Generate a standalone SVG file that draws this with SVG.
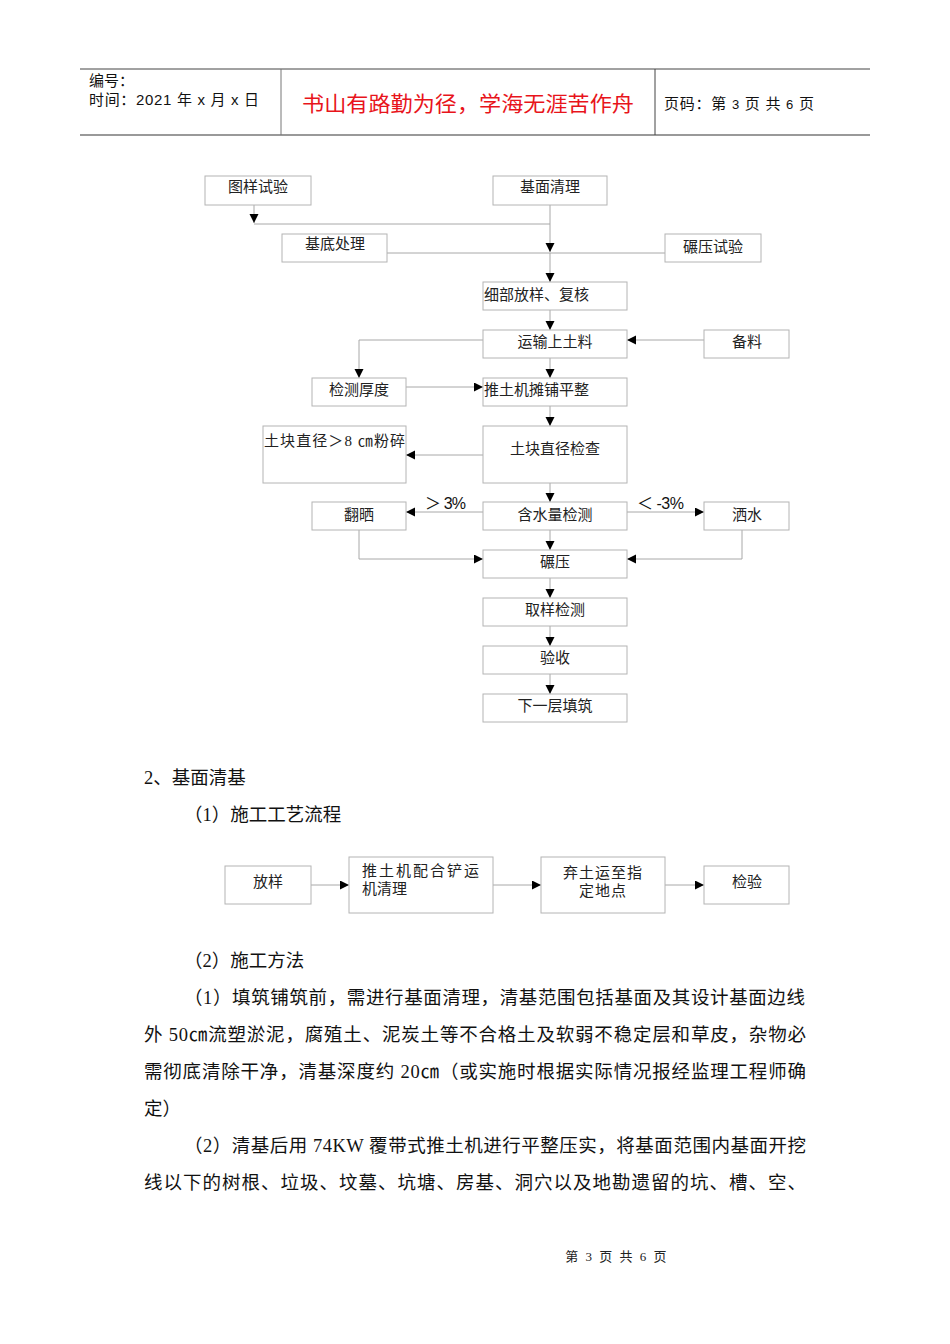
<svg xmlns="http://www.w3.org/2000/svg" width="950" height="1344" viewBox="0 0 950 1344">
<defs>
<marker id="ah" markerUnits="userSpaceOnUse" markerWidth="10" markerHeight="10" refX="9" refY="4.5" orient="auto">
<path d="M0,0 L9,4.5 L0,9 z" fill="#000"/>
</marker>
<style>
.box{fill:#fff;stroke:#b4b4b4;stroke-width:1}
.ln{fill:none;stroke:#a8a8a8;stroke-width:1}
.arr{fill:none;stroke:#a8a8a8;stroke-width:1;marker-end:url(#ah)}
.t{font-family:"Liberation Serif","Noto Sans CJK SC",serif;font-size:15px;fill:#222}
.c{text-anchor:middle}
.hd{font-family:"Liberation Sans","Noto Sans CJK SC",sans-serif;font-size:15px;fill:#111}
.body{font-family:"Liberation Serif","Noto Sans CJK SC",serif;font-size:18.5px;fill:#111}
</style>
</defs>
<rect width="950" height="1344" fill="#fff"/>
<g id="header">
<line x1="80" y1="69" x2="870" y2="69" stroke="#444" stroke-width="1"/>
<line x1="80" y1="135" x2="870" y2="135" stroke="#777" stroke-width="1.5"/>
<line x1="281" y1="69" x2="281" y2="135" stroke="#777" stroke-width="1"/>
<line x1="655" y1="69" x2="655" y2="135" stroke="#444" stroke-width="1"/>
<text class="hd" x="89" y="86">编号：</text>
<text class="hd" x="89" y="105" textLength="170" lengthAdjust="spacing">时间：2021 年 x 月 x 日</text>
<text x="302" y="111" font-family="'Noto Sans CJK SC',sans-serif" font-size="21" fill="#e8141b" textLength="332" lengthAdjust="spacingAndGlyphs">书山有路勤为径，学海无涯苦作舟</text>
<text class="hd" x="664" y="109" textLength="150" lengthAdjust="spacing">页码：第 <tspan font-size="13">3</tspan> 页  共 <tspan font-size="13">6</tspan> 页</text>
</g>
<g id="connectors">
<polyline class="ln" points="550,205 550,224 254,224"/>
<line class="arr" x1="254" y1="205" x2="254" y2="223"/>
<line class="arr" x1="550" y1="224" x2="550" y2="252"/>
<line class="ln" x1="387" y1="253" x2="665" y2="253"/>
<line class="arr" x1="550" y1="253" x2="550" y2="282"/>
<line class="arr" x1="550" y1="310" x2="550" y2="330"/>
<line class="arr" x1="704" y1="340" x2="627" y2="340"/>
<polyline class="arr" points="483,340 359,340 359,378"/>
<line class="arr" x1="550" y1="358" x2="550" y2="378"/>
<line class="arr" x1="406" y1="387" x2="483" y2="387"/>
<line class="arr" x1="550" y1="406" x2="550" y2="426"/>
<line class="arr" x1="483" y1="455" x2="406" y2="455"/>
<line class="arr" x1="550" y1="483" x2="550" y2="502"/>
<line class="arr" x1="483" y1="512" x2="406" y2="512"/>
<line class="arr" x1="627" y1="512" x2="704" y2="512"/>
<line class="arr" x1="550" y1="530" x2="550" y2="550"/>
<polyline class="arr" points="359,530 359,559 483,559"/>
<polyline class="arr" points="742,530 742,559 627,559"/>
<line class="arr" x1="550" y1="578" x2="550" y2="598"/>
<line class="arr" x1="550" y1="626" x2="550" y2="646"/>
<line class="arr" x1="550" y1="674" x2="550" y2="694"/>
<line class="arr" x1="311" y1="885" x2="349" y2="885"/>
<line class="arr" x1="493" y1="885" x2="541" y2="885"/>
<line class="arr" x1="665" y1="885" x2="704" y2="885"/>
<text x="425" y="509" font-family="'Liberation Sans','Noto Sans CJK SC',sans-serif" font-size="16" fill="#111" textLength="41" lengthAdjust="spacing">＞ 3%</text>
<text x="637" y="509" font-family="'Liberation Sans','Noto Sans CJK SC',sans-serif" font-size="16" fill="#111" textLength="47" lengthAdjust="spacing">＜ -3%</text>
</g>
<g id="n-tuyang"><rect class="box" x="205" y="176" width="106" height="29"/><text class="t c" x="258" y="192">图样试验</text></g>
<g id="n-jimian"><rect class="box" x="493" y="176" width="114" height="29"/><text class="t c" x="550" y="192">基面清理</text></g>
<g id="n-jidi"><rect class="box" x="282" y="234" width="105" height="28"/><text class="t c" x="335" y="249">基底处理</text></g>
<g id="n-nianya-shiyan"><rect class="box" x="665" y="234" width="96" height="28"/><text class="t c" x="713" y="252">碾压试验</text></g>
<g id="n-xibu"><rect class="box" x="483" y="282" width="144" height="28"/><text class="t" x="484" y="300">细部放样、复核</text></g>
<g id="n-yunshu"><rect class="box" x="483" y="330" width="144" height="28"/><text class="t c" x="555" y="347">运输上土料</text></g>
<g id="n-beiliao"><rect class="box" x="704" y="330" width="85" height="28"/><text class="t c" x="747" y="347">备料</text></g>
<g id="n-jiance-houdu"><rect class="box" x="312" y="378" width="94" height="28"/><text class="t c" x="359" y="395">检测厚度</text></g>
<g id="n-tantu"><rect class="box" x="483" y="378" width="144" height="28"/><text class="t" x="484" y="395">推土机摊铺平整</text></g>
<g id="n-fensui"><rect class="box" x="263" y="426" width="143" height="57"/><text class="t" x="264" y="446" textLength="141" lengthAdjust="spacing">土块直径＞8 ㎝粉碎</text></g>
<g id="n-jiancha"><rect class="box" x="483" y="426" width="144" height="57"/><text class="t c" x="555" y="454">土块直径检查</text></g>
<g id="n-fanshai"><rect class="box" x="312" y="502" width="94" height="28"/><text class="t c" x="359" y="520">翻晒</text></g>
<g id="n-hanshui"><rect class="box" x="483" y="502" width="144" height="28"/><text class="t c" x="555" y="520">含水量检测</text></g>
<g id="n-sashui"><rect class="box" x="704" y="502" width="85" height="28"/><text class="t c" x="747" y="520">洒水</text></g>
<g id="n-nianya"><rect class="box" x="483" y="550" width="144" height="28"/><text class="t c" x="555" y="567">碾压</text></g>
<g id="n-quyang"><rect class="box" x="483" y="598" width="144" height="28"/><text class="t c" x="555" y="615">取样检测</text></g>
<g id="n-yanshou"><rect class="box" x="483" y="646" width="144" height="28"/><text class="t c" x="555" y="663">验收</text></g>
<g id="n-xiayiceng"><rect class="box" x="483" y="694" width="144" height="28"/><text class="t c" x="555" y="711">下一层填筑</text></g>
<g id="text-mid">
<text class="body" x="144" y="784">2、基面清基</text>
<text class="body" x="184" y="821">（1）施工工艺流程</text>
</g>
<g id="n2-fangyang"><rect class="box" x="225" y="866" width="86" height="38"/><text class="t c" x="268" y="887">放样</text></g>
<g id="n2-tuituji"><rect class="box" x="349" y="857" width="144" height="56"/><text class="t" x="362" y="876" letter-spacing="2">推土机配合铲运</text><text class="t" x="362" y="894">机清理</text></g>
<g id="n2-qitu"><rect class="box" x="541" y="857" width="124" height="56"/><text class="t c" x="603" y="878" letter-spacing="1">弃土运至指</text><text class="t c" x="603" y="896" letter-spacing="1">定地点</text></g>
<g id="n2-jianyan"><rect class="box" x="704" y="866" width="85" height="38"/><text class="t c" x="747" y="887">检验</text></g>
<g id="text-body">
<text class="body" x="184" y="967">（2）施工方法</text>
<text class="body" x="184" y="1004" textLength="621" lengthAdjust="spacing">（1）填筑铺筑前，需进行基面清理，清基范围包括基面及其设计基面边线</text>
<text class="body" x="144" y="1041" textLength="662" lengthAdjust="spacing">外 50㎝流塑淤泥，腐殖土、泥炭土等不合格土及软弱不稳定层和草皮，杂物必</text>
<text class="body" x="144" y="1078" textLength="662" lengthAdjust="spacing">需彻底清除干净，清基深度约 20㎝（或实施时根据实际情况报经监理工程师确</text>
<text class="body" x="144" y="1115">定）</text>
<text class="body" x="184" y="1152" textLength="622" lengthAdjust="spacing">（2）清基后用 74KW 覆带式推土机进行平整压实，将基面范围内基面开挖</text>
<text class="body" x="144" y="1189" textLength="662" lengthAdjust="spacing">线以下的树根、垃圾、坟墓、坑塘、房基、洞穴以及地勘遗留的坑、槽、空、</text>
</g>
<g id="footer">
<text x="617" y="1261" text-anchor="middle" font-family="'Liberation Serif','Noto Sans CJK SC',serif" font-size="13" fill="#222" letter-spacing="2">第 3 页 共 6 页</text>
</g>
</svg>
